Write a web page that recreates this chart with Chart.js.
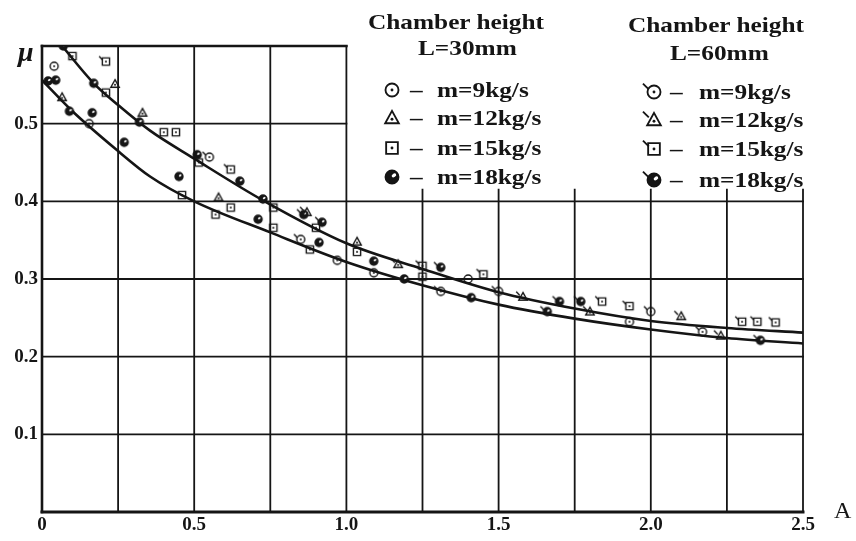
<!DOCTYPE html>
<html>
<head>
<meta charset="utf-8">
<script src="https://cdn.jsdelivr.net/npm/chart.js@4.4.0/dist/chart.umd.min.js"></script>
<style>
body { margin: 0; background: #fff; }
#wrap { position: relative; width: 856px; height: 541px; overflow: hidden; }
#chart { position: absolute; left: 0; top: 0; }
.lbl { position: absolute; font-family: 'Liberation Serif', serif; font-weight: bold; font-size: 22px; color: #151515;
       white-space: nowrap; line-height: 1; transform-origin: 0 50%; transform: scaleX(1.15); }
.sym { position: absolute; }
</style>
</head>
<body>
<div id="wrap">
  <canvas id="chart" width="856" height="541"></canvas>
  <div class="lbl" style="left:368px;top:11px">Chamber height</div>
  <div class="lbl" style="left:418px;top:37px">L=30mm</div>
  <div class="lbl" style="left:628px;top:14px">Chamber height</div>
  <div class="lbl" style="left:670px;top:42px">L=60mm</div>
  <div class="lbl" style="left:18px;top:38px;font-style:italic;font-size:28px;transform:none">μ</div>
  <div class="lbl" style="left:834px;top:498px;font-weight:normal;font-size:24px;transform:none">A</div>
  <div id="legend"></div>
</div>
<script>
// Axis ticks
const xTickValues = [0, 0.5, 1.0, 1.5, 2.0, 2.5];
const xTickLabels = ['0', '0.5', '1.0', '1.5', '2.0', '2.5'];
const yTickValues = [0.1, 0.2, 0.3, 0.4, 0.5];
const yTickLabels = ['0.1', '0.2', '0.3', '0.4', '0.5'];

// Fitted curves
const upperX = [0.066, 0.17, 0.25, 0.355, 0.5, 0.727, 1.0, 1.25, 1.5, 1.75, 2.0, 2.25, 2.5];
const upperY = [0.6, 0.552, 0.524, 0.491, 0.455, 0.401, 0.346, 0.313, 0.283, 0.262, 0.246, 0.237, 0.231];
const lowerX = [0.0, 0.1, 0.24, 0.355, 0.5, 0.75, 1.0, 1.25, 1.5, 1.75, 2.0, 2.25, 2.5];
const lowerY = [0.556, 0.516, 0.468, 0.432, 0.4, 0.36, 0.322, 0.292, 0.267, 0.249, 0.235, 0.224, 0.217];

// Chamber height L=30mm
const l30m9 = [[0.04, 0.574], [0.155, 0.50], [0.97, 0.324], [1.09, 0.308], [1.40, 0.30], [1.93, 0.245]];
const l30m12 = [[0.24, 0.551], [0.066, 0.534], [0.33, 0.514], [0.58, 0.405], [1.035, 0.348]];
const l30m15 = [[0.10, 0.587], [0.21, 0.54], [0.40, 0.489], [0.44, 0.489], [0.515, 0.45], [0.46, 0.408], [0.57, 0.383],
                [0.62, 0.392], [0.76, 0.392], [0.76, 0.366], [0.90, 0.366], [0.88, 0.338], [1.035, 0.335], [1.25, 0.303]];
const l30m18 = [[0.07, 0.6], [0.02, 0.555], [0.045, 0.556], [0.17, 0.552], [0.09, 0.516], [0.165, 0.514], [0.32, 0.502],
                [0.27, 0.476], [0.51, 0.46], [0.45, 0.432], [0.65, 0.426], [0.726, 0.403], [0.71, 0.377], [0.91, 0.347],
                [1.09, 0.323], [1.19, 0.30], [1.41, 0.276]];
// Chamber height L=60mm
const l60m9 = [[0.55, 0.457], [0.85, 0.351], [1.31, 0.284], [1.50, 0.284], [2.0, 0.258], [2.17, 0.232]];
const l60m12 = [[0.87, 0.386], [1.17, 0.319], [1.58, 0.277], [2.10, 0.252], [2.23, 0.227], [1.80, 0.258]];
const l60m15 = [[0.21, 0.58], [0.62, 0.441], [1.25, 0.317], [1.45, 0.306], [1.93, 0.265], [1.84, 0.271],
                [2.30, 0.245], [2.35, 0.245], [2.41, 0.244]];
const l60m18 = [[0.86, 0.383], [0.92, 0.373], [1.31, 0.315], [1.70, 0.271], [1.77, 0.271], [1.66, 0.258], [2.36, 0.221]];

const legendLabels = ['m=9kg/s', 'm=12kg/s', 'm=15kg/s', 'm=18kg/s'];
const kinds = ['circle', 'triangle', 'square', 'half'];
const ink = '#151515';

// small hand-drawn looking marker, returned as a canvas for pointStyle
function makeSymbol(kind, flag, size) {
    const c = document.createElement('canvas');
    const d = size * 2;
    c.width = d; c.height = d;
    const g = c.getContext('2d');
    const cx = d / 2, cy = d / 2, r = size / 2;
    g.strokeStyle = ink; g.fillStyle = ink;
    g.lineWidth = Math.max(1.4, size / 7);
    g.beginPath();
    if (kind === 'circle' || kind === 'half') g.arc(cx, cy, r, 0, Math.PI * 2);
    else if (kind === 'triangle') {
        g.moveTo(cx, cy - r * 1.1); g.lineTo(cx + r * 1.05, cy + r * 0.8); g.lineTo(cx - r * 1.05, cy + r * 0.8); g.closePath();
    } else g.rect(cx - r * 0.9, cy - r * 0.9, r * 1.8, r * 1.8);
    g.stroke();
    if (kind === 'half') {
        g.fill();
        g.fillStyle = '#fff';
        g.beginPath(); g.ellipse(cx + r * 0.3, cy - r * 0.25, r * 0.38, r * 0.26, -0.6, 0, Math.PI * 2); g.fill();
    } else {
        g.beginPath(); g.arc(cx, cy + (kind === 'triangle' ? r * 0.2 : 0), Math.max(1, size / 9), 0, Math.PI * 2); g.fill();
    }
    if (flag) {
        g.beginPath(); g.moveTo(cx - r * 0.8, cy - r * 0.4); g.lineTo(cx - r * 1.7, cy - r * 1.3); g.stroke();
    }
    return c;
}

function toPoints(arr) { return arr.map(p => ({ x: p[0], y: p[1] })); }
function zipXY(xs, ys) { return xs.map((x, i) => ({ x: x, y: ys[i] })); }

function curve(xs, ys) {
    return { type: 'line', data: zipXY(xs, ys), showLine: true, borderColor: ink, borderWidth: 2.6,
             pointRadius: 0, cubicInterpolationMode: 'monotone', fill: false, order: 2 };
}
function markers(arr, kind, flag) {
    return { type: 'scatter', data: toPoints(arr), pointStyle: makeSymbol(kind, flag, 8), pointRadius: 5, order: 1 };
}

const tickFont = { family: 'Liberation Serif', size: 19, weight: 'bold' };

// partial grid like the printed figure: upper part only up to A=1.0
const gridPlugin = {
    id: 'partialGrid',
    beforeDatasetsDraw(chart) {
        const { ctx, scales: { x, y } } = chart;
        ctx.save();
        ctx.strokeStyle = ink;
        ctx.lineCap = 'square';
        const line = (x1, y1, x2, y2, w) => {
            ctx.lineWidth = w;
            ctx.beginPath(); ctx.moveTo(x1, y1); ctx.lineTo(x2, y2); ctx.stroke();
        };
        x.ticks.forEach(t => {
            const top = t.value <= 1.0 ? 0.6 : 0.415;
            const px = x.getPixelForValue(t.value);
            line(px, y.getPixelForValue(0), px, y.getPixelForValue(top), t.value === 0 ? 2.6 : 1.8);
        });
        y.ticks.forEach(t => {
            const right = t.value <= 0.4 + 1e-9 ? 2.5 : 1.0;
            const py = y.getPixelForValue(t.value);
            const w = t.value === 0 ? 3 : (t.value > 0.55 ? 2.6 : 1.8);
            line(x.getPixelForValue(0), py, x.getPixelForValue(right), py, w);
        });
        ctx.restore();
    }
};

new Chart(document.getElementById('chart').getContext('2d'), {
    type: 'scatter',
    data: {
        datasets: [
            curve(upperX, upperY),
            curve(lowerX, lowerY),
            markers(l30m9, 'circle', false),
            markers(l30m12, 'triangle', false),
            markers(l30m15, 'square', false),
            markers(l30m18, 'half', false),
            markers(l60m9, 'circle', true),
            markers(l60m12, 'triangle', true),
            markers(l60m15, 'square', true),
            markers(l60m18, 'half', true)
        ]
    },
    options: {
        responsive: false,
        animation: false,
        layout: { padding: { top: 46, right: 53, left: 0, bottom: 0 } },
        plugins: { legend: { display: false }, tooltip: { enabled: false } },
        scales: {
            x: {
                type: 'linear', min: 0, max: 2.5,
                afterFit: s => { s.height = 29; },
                grid: { display: false, drawTicks: false }, border: { display: false },
                ticks: {
                    stepSize: 0.25, autoSkip: false, maxRotation: 0, padding: 2, color: ink, font: tickFont,
                    callback: v => {
                        const i = xTickValues.findIndex(t => Math.abs(t - v) < 1e-6);
                        return i >= 0 ? xTickLabels[i] : '';
                    }
                }
            },
            y: {
                type: 'linear', min: 0, max: 0.6,
                afterFit: s => { s.width = 42; },
                grid: { display: false, drawTicks: false }, border: { display: false },
                ticks: {
                    stepSize: 0.1, padding: 4, color: ink, font: tickFont,
                    callback: v => {
                        const i = yTickValues.findIndex(t => Math.abs(t - v) < 1e-6);
                        return i >= 0 ? yTickLabels[i] : '';
                    }
                }
            }
        }
    },
    plugins: [gridPlugin]
});

// legend, two columns
const legend = document.getElementById('legend');
const rowsL30 = [90, 118, 148, 177];
const rowsL60 = [92, 120, 149, 180];
function addLegendRow(kind, flag, sx, cy, dashX, textX, label) {
    const s = makeSymbol(kind, flag, 13);
    s.className = 'sym';
    s.style.left = (sx - s.width / 2) + 'px';
    s.style.top = (cy - s.height / 2) + 'px';
    legend.appendChild(s);
    const dash = document.createElement('div');
    dash.className = 'lbl';
    dash.style.left = dashX + 'px'; dash.style.top = (cy - 11) + 'px';
    dash.textContent = '–';
    legend.appendChild(dash);
    const t = document.createElement('div');
    t.className = 'lbl';
    t.style.left = textX + 'px'; t.style.top = (cy - 11) + 'px';
    t.textContent = label;
    legend.appendChild(t);
}
kinds.forEach((k, i) => {
    addLegendRow(k, false, 392, rowsL30[i], 410, 437, legendLabels[i]);
    addLegendRow(k, true, 654, rowsL60[i], 670, 699, legendLabels[i]);
});
</script>
</body>
</html>
